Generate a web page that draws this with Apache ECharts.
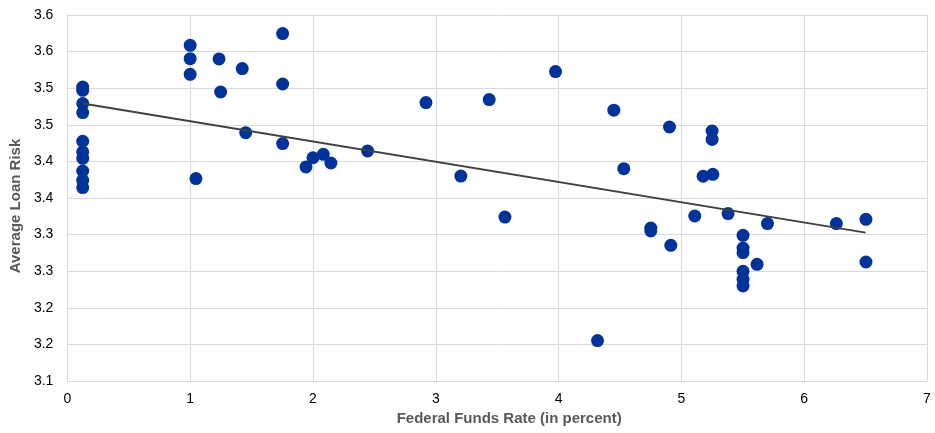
<!DOCTYPE html>
<html>
<head>
<meta charset="utf-8">
<script src="https://cdn.jsdelivr.net/npm/echarts@6/dist/echarts.min.js"></script>
<style>
  html, body { margin: 0; padding: 0; background: #fff; }
  #chart { width: 935px; height: 433px; }
</style>
</head>
<body>
<div id="chart"></div>
<script>
// fed funds rate (x) vs average loan risk (y)
const fedRate = [
  0.125, 0.125, 0.125, 0.125, 0.125, 0.125, 0.125, 0.125, 0.125, 0.125,
  1.0, 1.0, 1.0, 1.047, 1.235, 1.248, 1.424, 1.452, 1.753, 1.753, 1.753,
  1.943, 2.0, 2.084, 2.146, 2.445, 2.92, 3.204, 3.435, 3.563, 3.975,
  4.317, 4.45, 4.531, 4.751, 4.751, 4.903, 4.914, 5.109, 5.177, 5.25, 5.25, 5.256,
  5.38, 5.502, 5.502, 5.502, 5.502, 5.502, 5.502, 5.616, 5.701,
  6.262, 6.503, 6.503
]
const loanRisk = [
  3.5016, 3.4971, 3.479, 3.4667, 3.4275, 3.4129, 3.4042, 3.3869, 3.3742, 3.3642,
  3.5586, 3.5404, 3.519, 3.3765, 3.540, 3.4948, 3.5268, 3.4393, 3.5746, 3.5057, 3.4243,
  3.3924, 3.405, 3.4097, 3.3978, 3.4142, 3.4803, 3.380, 3.4844, 3.324, 3.5227,
  3.1552, 3.470, 3.390, 3.309, 3.305, 3.447, 3.2854, 3.3254, 3.3797, 3.4415, 3.430, 3.3824,
  3.3287, 3.299, 3.2817, 3.2754, 3.2499, 3.239, 3.2298, 3.2594, 3.315,
  3.315, 3.3209, 3.2626
]

// linear trend line
const trendX = [0.125, 6.5]
const trendY = [3.479, 3.3027]

const yTickLabels = ['3.1', '3.2', '3.2', '3.3', '3.3', '3.4', '3.4', '3.5', '3.5', '3.6', '3.6']
const xTickLabels = ['0', '1', '2', '3', '4', '5', '6', '7']

const chart = echarts.init(document.getElementById('chart'))

const gridLine = { lineStyle: { color: '#d9d9d9', width: 1 } }
const titleFont = { color: '#595959', fontSize: 15, fontWeight: 'bold', fontFamily: 'Liberation Sans' }

const option = {
  animation: false,
  grid: { left: 67, right: 8, top: 15, bottom: 52 },
  xAxis: {
    type: 'value',
    min: 0,
    max: 7,
    interval: 1,
    name: 'Federal Funds Rate (in percent)',
    nameLocation: 'middle',
    nameGap: 28,
    nameTextStyle: Object.assign({ padding: [0, 0, 0, 24] }, titleFont),
    axisLine: { lineStyle: { color: '#d9d9d9' } },
    axisTick: { show: false },
    splitLine: gridLine,
    axisLabel: {
      color: '#000',
      fontSize: 14,
      fontFamily: 'Liberation Sans',
      margin: 11,
      formatter: v => xTickLabels[Math.round(v)]
    }
  },
  yAxis: {
    type: 'value',
    min: 3.1,
    max: 3.6,
    interval: 0.05,
    name: 'Average Loan Risk',
    nameLocation: 'middle',
    nameGap: 44,
    nameTextStyle: Object.assign({ padding: [0, 16, 0, 0] }, titleFont),
    axisLine: { show: true, lineStyle: { color: '#d9d9d9' } },
    axisTick: { show: false },
    splitLine: gridLine,
    axisLabel: {
      color: '#000',
      fontSize: 14,
      fontFamily: 'Liberation Sans',
      margin: 14,
      formatter: v => yTickLabels[Math.round((v - 3.1) / 0.05)]
    }
  },
  series: [
    {
      type: 'scatter',
      symbolSize: 13,
      itemStyle: { color: '#003399', opacity: 1 },
      data: fedRate.map((x, i) => [x, loanRisk[i]]),
      z: 2
    },
    {
      type: 'line',
      symbol: 'none',
      lineStyle: { color: '#404040', width: 2 },
      data: trendX.map((x, i) => [x, trendY[i]]),
      z: 3
    }
  ]
}

chart.setOption(option)
</script>
</body>
</html>
